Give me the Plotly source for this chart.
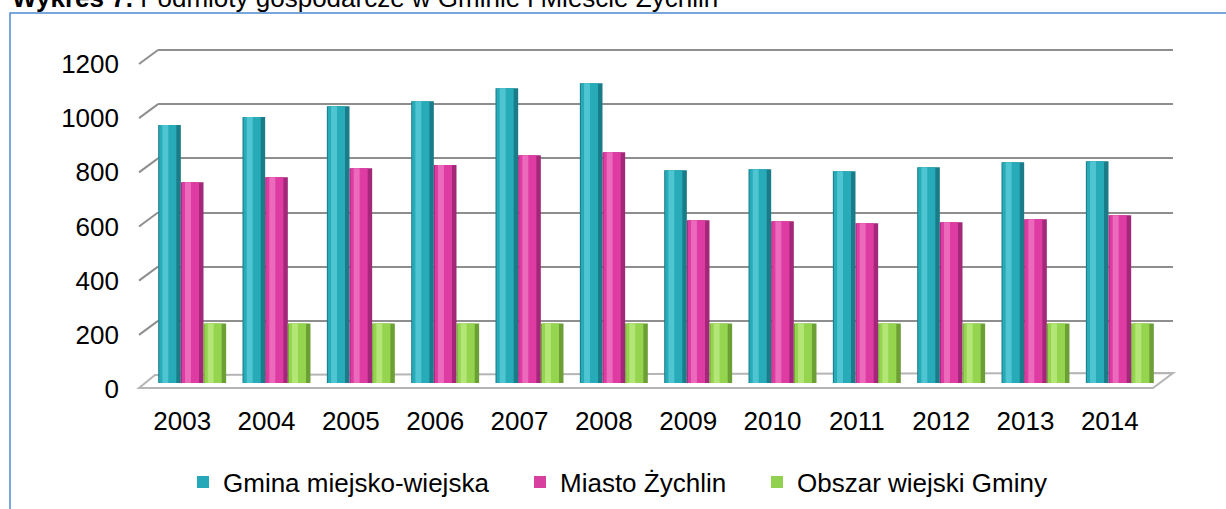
import plotly.graph_objects as go

# ---------------- data ----------------
years = ["2003", "2004", "2005", "2006", "2007", "2008",
         "2009", "2010", "2011", "2012", "2013", "2014"]
gmina = [953, 982, 1022, 1040, 1088, 1107, 786, 789, 782, 797, 815, 819]
miasto = [741, 760, 793, 805, 841, 852, 601, 597, 590, 594, 605, 619]
obszar = [220, 220, 220, 220, 220, 220, 220, 220, 220, 220, 220, 220]
series_names = ["Gmina miejsko-wiejska", "Miasto Żychlin", "Obszar wiejski Gminy"]
y_ticks = [0, 200, 400, 600, 800, 1000, 1200]
title_bold = "Wykres 7."
title_rest = "Podmioty gospodarcze w Gminie i Mieście Żychlin"

# ---------------- geometry / style ----------------
W, H = 1226, 509
FONT = "Liberation Sans, Arial, sans-serif"


def fx(p):
    return p / W


def fy(p):
    return 1 - p / H


YMAX = 1212  # a little head-room so the 1200 gridline is drawn
BACK = dict(l=158, r=1173, b=375, t=50)    # back wall (gridlines): pixel of 0 and 1200
FRONT = dict(l=150, r=1162, b=383, t=58)   # bars plane: pixel of 0 and 1200
scale_back = (BACK["b"] - BACK["t"]) / 1200
scale_front = (FRONT["b"] - FRONT["t"]) / 1200
back_top = BACK["b"] - YMAX * scale_back
front_top = FRONT["b"] - YMAX * scale_front
FLOOR_FRONT_Y = 388
FLOOR_FRONT_L, FLOOR_FRONT_R = 139, 1153

palettes = [
    ("#1a7c88", "#28abb9", "#4fc5d1"),   # teal
    ("#a3287a", "#de3ca3", "#ec6abc"),   # pink
    ("#6c9f35", "#94d44f", "#b3e676"),   # green
]
legend_colors = ["#25a8b7", "#d8409f", "#92d050"]
series_vals = [gmina, miasto, obszar]
legend_text_x = [225, 562, 799]

fig = go.Figure()

# invisible trace to create the back-wall subplot
fig.add_trace(go.Scatter(x=[0], y=[0], xaxis="x", yaxis="y", mode="markers",
                         marker=dict(opacity=0), showlegend=False, hoverinfo="skip"))

group = 0.806
bw = group / 3
legend_ids = ["legend", "legend2", "legend3"]
for i, (name, vals, (dark, main, light)) in enumerate(zip(series_names, series_vals, palettes)):
    off = -group / 2 + i * bw
    fig.add_trace(go.Bar(x=years, y=vals, xaxis="x2", yaxis="y2", offset=off, width=bw,
                         marker=dict(color=dark, line_width=0), showlegend=False,
                         hoverinfo="skip"))
    fig.add_trace(go.Bar(x=years, y=vals, xaxis="x2", yaxis="y2", offset=off + 0.012,
                         width=bw - 0.065, marker=dict(color=main, line_width=0),
                         name=name, showlegend=False))
    fig.add_trace(go.Bar(x=years, y=vals, xaxis="x2", yaxis="y2", offset=off + 0.05,
                         width=0.07, marker=dict(color=light, line_width=0),
                         showlegend=False, hoverinfo="skip"))
    # legend entry (no visible data of its own)
    fig.add_trace(go.Bar(x=[None], y=[None], xaxis="x2", yaxis="y2", name=name,
                         marker=dict(color=legend_colors[i]), showlegend=True,
                         legend=legend_ids[i], hoverinfo="skip"))

shapes = []
# floor
floor_pts = [(FLOOR_FRONT_L, FLOOR_FRONT_Y), (FLOOR_FRONT_R, FLOOR_FRONT_Y),
             (BACK["r"], BACK["b"] - 2), (BACK["l"] - 3, BACK["b"])]
path = "M " + " L ".join(f"{fx(x):.5f},{fy(y):.5f}" for x, y in floor_pts) + " Z"
shapes.append(dict(type="path", path=path, xref="paper", yref="paper",
                   fillcolor="white", line=dict(color="#b5b5b5", width=2), layer="below"))
# side-wall diagonals at each tick
for v in y_ticks:
    if v == 0:
        continue
    shapes.append(dict(type="line", xref="paper", yref="y", ysizemode="pixel", yanchor=v,
                       x0=fx(FLOOR_FRONT_L), x1=fx(BACK["l"]), y0=-14, y1=0,
                       line=dict(color="#8e8e8e", width=2)))
# chart frame
shapes.append(dict(type="rect", xref="paper", yref="paper",
                   x0=fx(10), x1=fx(W + 20), y0=fy(13), y1=fy(H + 20),
                   line=dict(color="#4d8bd0", width=1.5), fillcolor="rgba(0,0,0,0)"))

legend_common = dict(orientation="h", yanchor="middle", y=fy(482), xanchor="left",
                     font=dict(size=26, family=FONT, color="black"),
                     bgcolor="rgba(0,0,0,0)", borderwidth=0)

fig.update_layout(
    template="none",
    width=W, height=H, autosize=False,
    margin=dict(l=0, r=0, t=0, b=0, pad=0),
    paper_bgcolor="white", plot_bgcolor="rgba(0,0,0,0)",
    barmode="overlay",
    font=dict(family=FONT, size=26, color="black"),
    showlegend=True,
    legend=dict(x=fx(legend_text_x[0] - 42), **legend_common),
    legend2=dict(x=fx(legend_text_x[1] - 42), **legend_common),
    legend3=dict(x=fx(legend_text_x[2] - 42), **legend_common),
    xaxis=dict(domain=[fx(BACK["l"]), fx(BACK["r"])], range=[0, 1], showgrid=False,
               showticklabels=False, zeroline=False, showline=False, fixedrange=True,
               automargin=False),
    yaxis=dict(domain=[fy(BACK["b"]), fy(back_top)], range=[0, YMAX], tickvals=y_ticks,
               showgrid=True, gridcolor="#8e8e8e", gridwidth=2, showticklabels=False,
               zeroline=False, showline=False, fixedrange=True, automargin=False),
    xaxis2=dict(domain=[fx(FRONT["l"]), fx(FRONT["r"])], anchor="y2", type="category",
                range=[-0.5, len(years) - 0.5], showgrid=False, zeroline=False,
                showline=False, ticks="", tickfont=dict(size=26),
                ticklabelshift=-10, ticklabelstandoff=20, fixedrange=True,
                automargin=False),
    yaxis2=dict(domain=[fy(FRONT["b"]), fy(front_top)], anchor="x2", range=[0, YMAX],
                tickvals=y_ticks, showgrid=False, zeroline=False, showline=False,
                ticks="", tickfont=dict(size=26), ticklabelshift=6,
                ticklabelstandoff=30, fixedrange=True, automargin=False),
    shapes=shapes,
    annotations=[dict(text=f"<b>{title_bold}</b> {title_rest}", xref="paper", yref="paper",
                      x=fx(10), y=fy(-1.5), xanchor="left", yanchor="middle",
                      showarrow=False, font=dict(size=26, color="black"))],
)

fig.write_html("out.html", config={"displayModeBar": False},
               post_script="document.body.style.margin='0';document.body.style.overflow='hidden';")
